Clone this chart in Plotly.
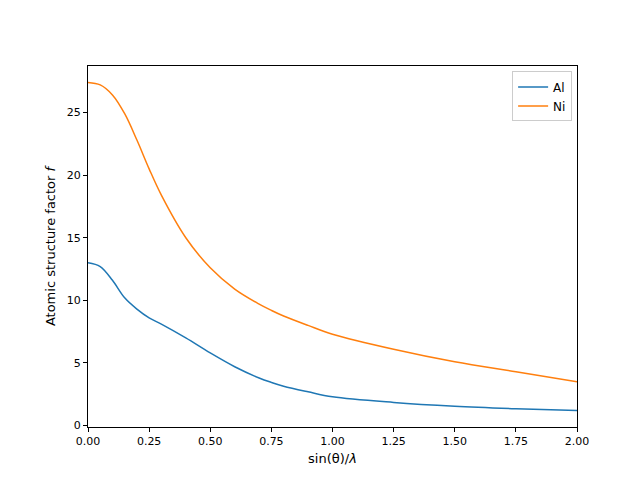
import plotly.graph_objects as go

x = [0, 0.05, 0.1, 0.15, 0.2, 0.25, 0.3, 0.4, 0.5, 0.6, 0.7, 0.75, 0.8, 0.9, 1.0, 1.25, 1.5, 1.75, 2.0]
al = [13.0, 12.7, 11.6, 10.2, 9.3, 8.6, 8.1, 7.0, 5.8, 4.7, 3.8, 3.45, 3.15, 2.7, 2.3, 1.85, 1.55, 1.35, 1.2]
ni = [27.4, 27.2, 26.4, 24.9, 22.8, 20.5, 18.4, 15.0, 12.6, 10.9, 9.7, 9.2, 8.75, 8.0, 7.3, 6.1, 5.1, 4.3, 3.5]

fig = go.Figure()
fig.add_trace(go.Scatter(x=x, y=al, name="Al", mode="lines", line=dict(color="#1f77b4", width=1.5, shape="spline")))
fig.add_trace(go.Scatter(x=x, y=ni, name="Ni", mode="lines", line=dict(color="#ff7f0e", width=1.5, shape="spline")))

ax = dict(showgrid=False, zeroline=False, showline=True, mirror=True, linecolor="black", linewidth=1,
          ticks="outside", ticklen=4, tickcolor="black")
fig.update_layout(
    width=640, height=480, plot_bgcolor="white", paper_bgcolor="white",
    margin=dict(l=80, r=71, t=58, b=61),
    font=dict(family="DejaVu Sans", size=11, color="black"),
    xaxis=dict(range=[0, 2], tickvals=[0, 0.25, 0.5, 0.75, 1.0, 1.25, 1.5, 1.75, 2.0],
               ticktext=["0.00", "0.25", "0.50", "0.75", "1.00", "1.25", "1.50", "1.75", "2.00"],
               title=dict(text="sin(θ)/<i>λ</i>", standoff=6), **ax),
    yaxis=dict(range=[-0.11, 28.71], tickvals=[0, 5, 10, 15, 20, 25],
               title=dict(text="Atomic structure factor <i>f</i>", standoff=8), **ax),
    legend=dict(x=0.99, y=0.985, xanchor="right", yanchor="top", bordercolor="#cccccc", borderwidth=1,
                bgcolor="white", font=dict(size=12)),
    showlegend=True,
)
fig.write_html("out.html")
